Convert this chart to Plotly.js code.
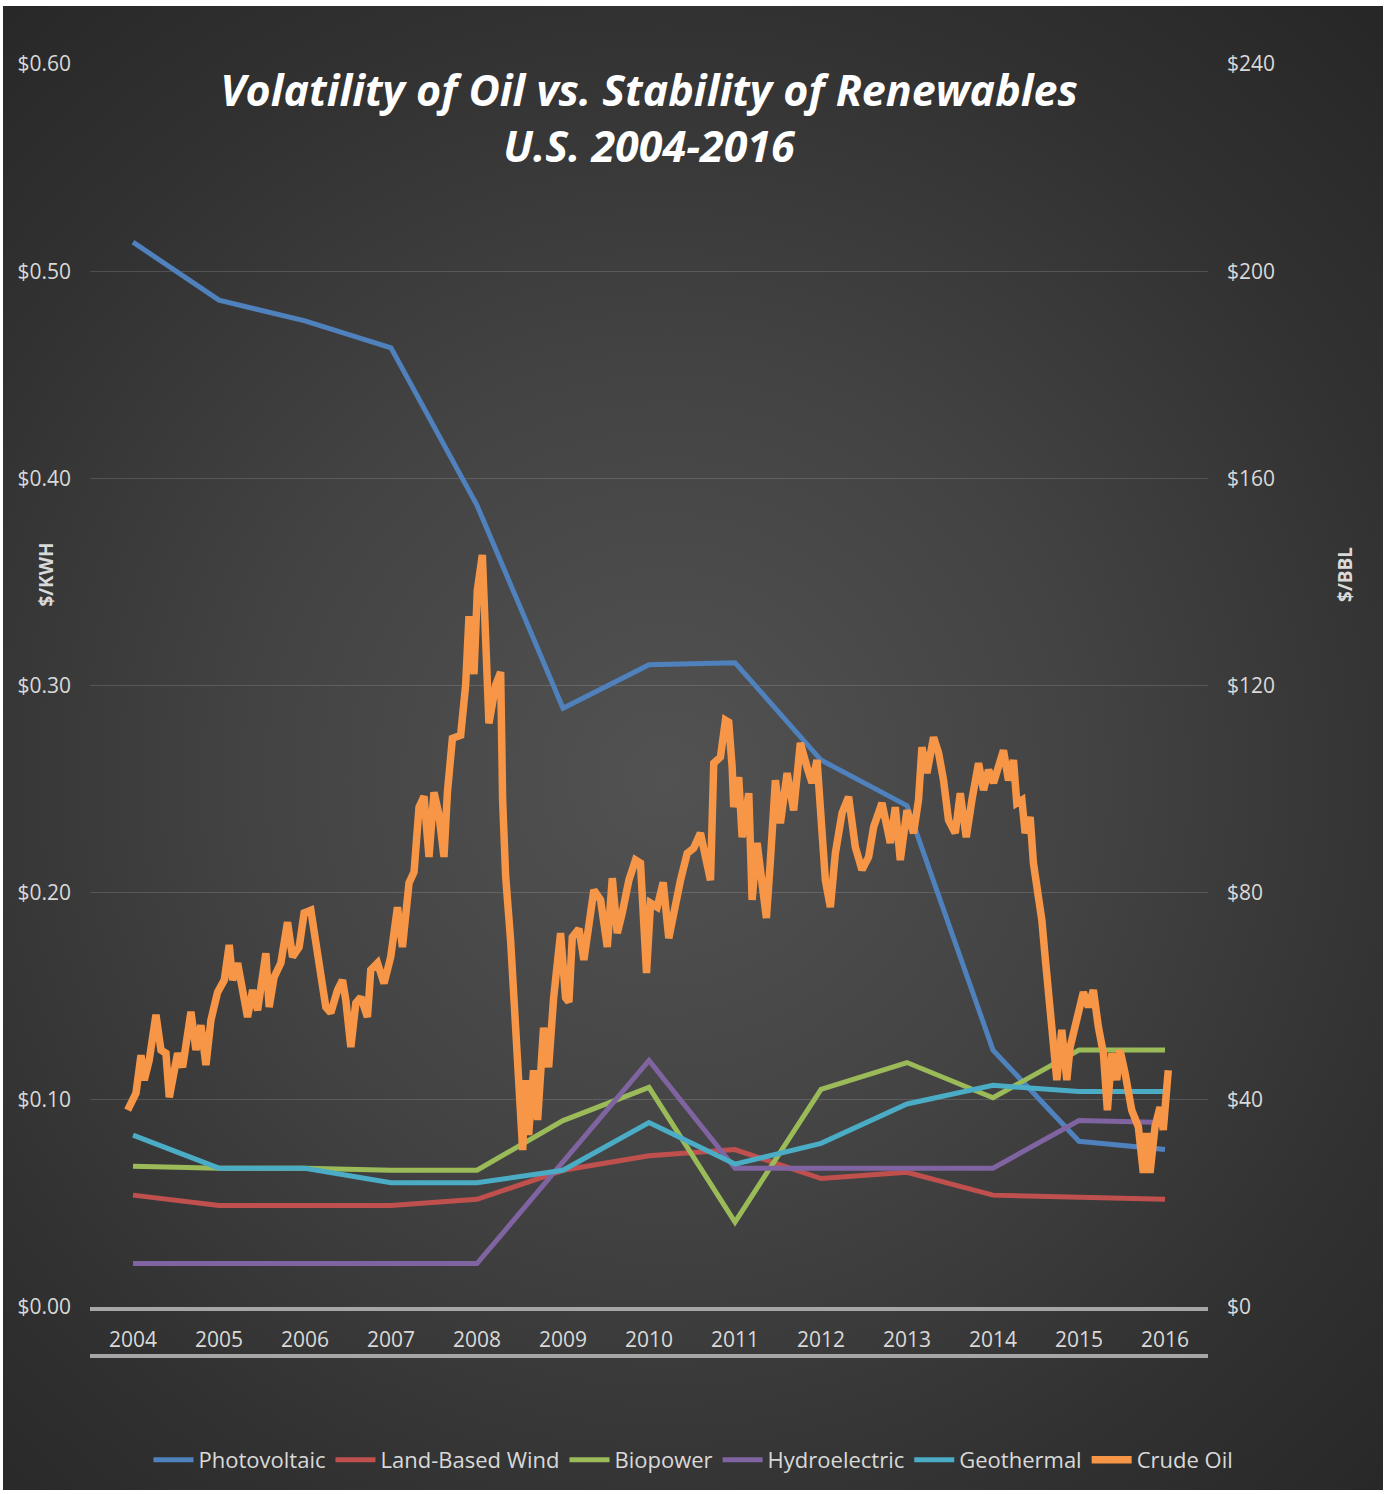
<!DOCTYPE html>
<html>
<head>
<meta charset="utf-8">
<script src="https://cdn.plot.ly/plotly-3.0.1.min.js"></script>
<style>
  html, body { margin: 0; padding: 0; background: #ffffff; }
  #wrap { position: relative; width: 1387px; height: 1494px; overflow: hidden; }
  #bg { position: absolute; left: 3px; top: 6px; right: 4px; bottom: 4px;
        background: radial-gradient(ellipse 75% 70% at 48% 52%, #525252 0%, #434343 40%, #313131 75%, #272727 100%); }
  #chart { position: absolute; left: 0; top: 0; width: 1387px; height: 1494px; }
</style>
</head>
<body>
<div id="wrap"><div id="bg"></div><div id="chart"></div></div>
<script>
// ---- data ----
const years = [2004, 2005, 2006, 2007, 2008, 2009, 2010, 2011, 2012, 2013, 2014, 2015, 2016];
const photovoltaic = [0.514, 0.486, 0.476, 0.463, 0.387, 0.289, 0.310, 0.311, 0.264, 0.242, 0.124, 0.080, 0.076];
const landBasedWind = [0.054, 0.049, 0.049, 0.049, 0.052, 0.066, 0.073, 0.076, 0.062, 0.065, 0.054, 0.053, 0.052];
const biopower = [0.068, 0.067, 0.067, 0.066, 0.066, 0.090, 0.106, 0.041, 0.105, 0.118, 0.101, 0.124, 0.124];
const hydroelectric = [0.021, 0.021, 0.021, 0.021, 0.021, 0.070, 0.119, 0.067, 0.067, 0.067, 0.067, 0.090, 0.089];
const geothermal = [0.083, 0.067, 0.067, 0.060, 0.060, 0.066, 0.089, 0.069, 0.079, 0.098, 0.107, 0.104, 0.104];

// crude oil ($/bbl), positions in fractional years along the same axis
const oilYear = [
  2003.938, 2004.035, 2004.093, 2004.131, 2004.189, 2004.267, 2004.325, 2004.383, 2004.422, 2004.461,
  2004.519, 2004.577, 2004.674, 2004.732, 2004.790, 2004.848, 2004.906, 2004.984, 2005.061, 2005.119,
  2005.158, 2005.216, 2005.274, 2005.332, 2005.391, 2005.449, 2005.545, 2005.583, 2005.641, 2005.719,
  2005.797, 2005.855, 2005.932, 2005.990, 2006.068, 2006.106, 2006.184, 2006.242, 2006.300, 2006.378,
  2006.436, 2006.474, 2006.533, 2006.591, 2006.649, 2006.726, 2006.765, 2006.843, 2006.919, 2006.997,
  2007.075, 2007.133, 2007.210, 2007.268, 2007.326, 2007.384, 2007.442, 2007.500, 2007.558, 2007.616,
  2007.656, 2007.714, 2007.810, 2007.868, 2007.907, 2007.965, 2008.004, 2008.062, 2008.101, 2008.139,
  2008.217, 2008.275, 2008.298, 2008.333, 2008.391, 2008.429, 2008.469, 2008.507, 2008.531, 2008.565,
  2008.600, 2008.658, 2008.705, 2008.774, 2008.833, 2008.891, 2008.972, 2009.030, 2009.069, 2009.108,
  2009.185, 2009.243, 2009.301, 2009.359, 2009.437, 2009.515, 2009.573, 2009.631, 2009.689, 2009.766,
  2009.843, 2009.901, 2009.971, 2010.018, 2010.095, 2010.165, 2010.230, 2010.288, 2010.366, 2010.444,
  2010.520, 2010.598, 2010.656, 2010.715, 2010.753, 2010.831, 2010.889, 2010.927, 2010.967, 2010.985,
  2011.043, 2011.083, 2011.160, 2011.199, 2011.257, 2011.315, 2011.365, 2011.412, 2011.470, 2011.528,
  2011.606, 2011.682, 2011.760, 2011.838, 2011.896, 2011.954, 2011.993, 2012.051, 2012.109, 2012.167,
  2012.245, 2012.321, 2012.399, 2012.477, 2012.554, 2012.612, 2012.709, 2012.806, 2012.864, 2012.922,
  2013.000, 2013.076, 2013.134, 2013.174, 2013.232, 2013.309, 2013.367, 2013.425, 2013.483, 2013.561,
  2013.619, 2013.689, 2013.755, 2013.832, 2013.890, 2013.948, 2014.006, 2014.064, 2014.122, 2014.180,
  2014.238, 2014.277, 2014.336, 2014.374, 2014.432, 2014.470, 2014.510, 2014.568, 2014.606, 2014.645,
  2014.684, 2014.742, 2014.800, 2014.858, 2014.897, 2014.975, 2015.051, 2015.109, 2015.167, 2015.225,
  2015.284, 2015.330, 2015.381, 2015.439, 2015.477, 2015.535, 2015.613, 2015.690, 2015.748, 2015.787,
  2015.826, 2015.884, 2015.942, 2015.980, 2016.019, 2016.038
];
const oilPrice = [
  38.0, 41.3, 48.6, 43.8, 47.7, 56.4, 49.6, 49.0, 40.5, 43.8,
  49.0, 46.3, 57.0, 49.6, 54.4, 46.7, 55.4, 60.8, 63.1, 69.9,
  63.1, 66.4, 61.2, 56.0, 61.2, 57.3, 68.3, 57.9, 63.7, 66.4,
  74.3, 67.6, 69.5, 76.1, 76.6, 72.2, 63.7, 57.9, 56.8, 61.2,
  63.1, 59.3, 50.2, 58.7, 59.8, 56.0, 65.1, 66.4, 62.5, 67.6,
  77.2, 69.5, 81.9, 84.0, 96.5, 98.6, 86.9, 99.4, 95.0, 86.9,
  99.4, 109.8, 110.4, 120.1, 133.4, 122.2, 138.4, 145.2, 128.8, 112.7,
  120.1, 122.6, 97.9, 83.2, 70.7, 59.7, 48.6, 40.0, 30.3, 43.8,
  33.2, 45.7, 36.1, 53.9, 46.3, 59.7, 72.2, 59.7, 58.9, 71.4,
  73.0, 67.0, 73.4, 80.5, 78.6, 69.5, 82.8, 72.2, 76.1, 82.4,
  86.3, 85.7, 64.5, 78.0, 77.2, 82.0, 71.2, 76.6, 82.4, 87.6,
  88.6, 91.5, 87.6, 82.4, 105.0, 106.2, 113.3, 112.9, 104.2, 96.5,
  102.3, 90.7, 99.2, 78.6, 89.6, 82.4, 75.1, 86.3, 101.7, 93.4,
  103.1, 95.9, 108.9, 104.2, 101.2, 105.6, 94.6, 82.4, 77.2, 87.6,
  95.4, 98.5, 88.8, 84.4, 86.9, 92.7, 97.3, 89.6, 96.5, 86.3,
  95.9, 91.5, 97.9, 108.1, 103.1, 110.0, 107.0, 101.7, 94.0, 91.5,
  99.2, 90.7, 97.9, 105.0, 99.8, 103.7, 101.2, 105.0, 107.5, 101.7,
  105.6, 97.3, 97.9, 91.5, 94.6, 85.7, 81.1, 74.7, 67.6, 59.8,
  51.5, 43.8, 53.5, 43.8, 50.2, 55.4, 60.8, 57.9, 61.2, 54.1,
  49.0, 38.0, 49.0, 43.8, 49.6, 45.2, 38.0, 34.8, 25.9, 33.6,
  25.9, 34.8, 38.6, 34.2, 41.3, 45.7
];

const leftTicks = [0, 0.1, 0.2, 0.3, 0.4, 0.5, 0.6];
const rightTicks = [0, 40, 80, 120, 160, 200, 240];

// ---- chart ----
const FONT = '"Open Sans", "DejaVu Sans", sans-serif';
const TXT = '#d9d9d9';

function series(name, y, color) {
  return { x: years, y: y, name: name, type: 'scatter', mode: 'lines',
           line: { color: color, width: 5 }, yaxis: 'y' };
}

const traces = [
  series('Photovoltaic', photovoltaic, '#4F81BD'),
  series('Land-Based Wind', landBasedWind, '#C0504D'),
  series('Biopower', biopower, '#9BBB59'),
  series('Hydroelectric', hydroelectric, '#8064A2'),
  series('Geothermal', geothermal, '#4BACC6'),
  { x: oilYear, y: oilPrice, name: 'Crude Oil', type: 'scatter', mode: 'lines',
    line: { color: '#F79646', width: 7.5 }, yaxis: 'y2' }
];

const layout = {
  width: 1387, height: 1494, autosize: false,
  paper_bgcolor: 'rgba(0,0,0,0)', plot_bgcolor: 'rgba(0,0,0,0)',
  margin: { l: 90, r: 179, t: 64, b: 187, pad: 0 },
  font: { family: FONT, color: TXT, size: 20 },
  title: {
    text: 'Volatility of Oil vs. Stability of Renewables<br>U.S. 2004-2016',
    font: { family: FONT, size: 43, color: '#ffffff', weight: 700, style: 'italic' },
    xref: 'paper', x: 0.5, xanchor: 'center',
    yref: 'container', y: 0.929, yanchor: 'top'
  },
  xaxis: {
    range: [2003.5, 2016.5], tickvals: years, ticktext: years.map(String),
    showgrid: false, zeroline: false, ticks: '',
    showline: true, linecolor: '#a6a6a6', linewidth: 4,
    tickfont: { family: FONT, size: 21, color: TXT },
    ticklabelstandoff: 11, fixedrange: true
  },
  yaxis: {
    range: [0, 0.6], tickvals: leftTicks, ticktext: leftTicks.map(v => '$' + v.toFixed(2)),
    showgrid: true, gridcolor: 'rgba(255,255,255,0.14)', gridwidth: 1,
    zeroline: false, showline: false, ticks: '',
    tickfont: { family: FONT, size: 21, color: TXT },
    ticklabelstandoff: 18, fixedrange: true
  },
  yaxis2: {
    range: [0, 240], tickvals: rightTicks, ticktext: rightTicks.map(v => '$' + v),
    overlaying: 'y', side: 'right', anchor: 'x',
    showgrid: false, zeroline: false, showline: false, ticks: '',
    tickfont: { family: FONT, size: 21, color: TXT },
    ticklabelstandoff: 18, fixedrange: true
  },
  shapes: [
    { type: 'line', xref: 'paper', yref: 'paper', x0: 0, x1: 1, y0: -0.0394, y1: -0.0394,
      line: { color: '#a6a6a6', width: 4 } }
  ],
  annotations: [
    { text: '<b>$/KWH</b>', xref: 'paper', yref: 'paper', x: -0.053, y: 0.589,
      textangle: -90, showarrow: false, font: { family: FONT, size: 19, color: TXT } },
    { text: '<b>$/BBL</b>', xref: 'paper', yref: 'paper', x: 1.136, y: 0.589,
      textangle: -90, showarrow: false, font: { family: FONT, size: 19, color: TXT } }
  ],
  showlegend: true,
  legend: {
    orientation: 'h', xref: 'container', yref: 'container',
    x: 0.5, xanchor: 'center', y: 0.0228, yanchor: 'middle',
    font: { family: FONT, size: 22, color: TXT },
    bgcolor: 'rgba(0,0,0,0)', itemwidth: 40, tracegroupgap: 0
  }
};

Plotly.newPlot('chart', traces, layout, { displayModeBar: false, staticPlot: true });
</script>
</body>
</html>
